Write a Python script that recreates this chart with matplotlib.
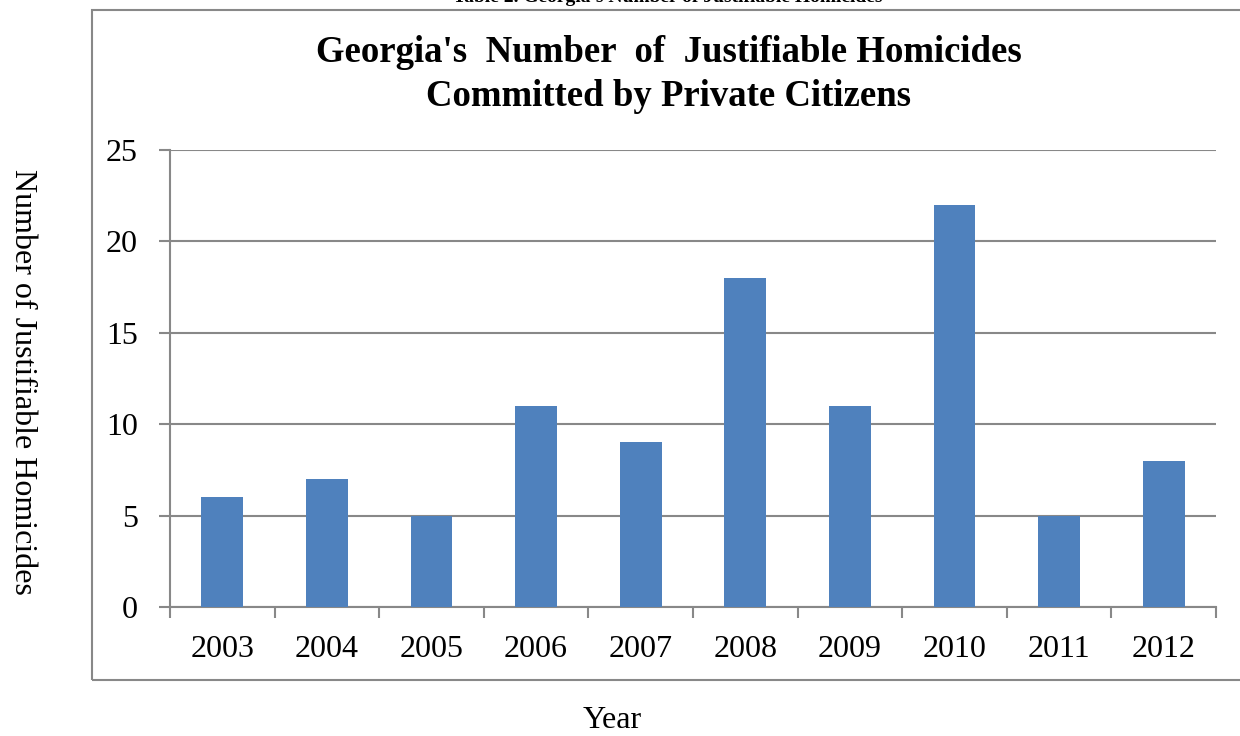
import matplotlib.pyplot as plt
from matplotlib.patches import Rectangle

# Justifiable homicides by private citizens, Georgia
anos = ["2003", "2004", "2005", "2006", "2007", "2008", "2009", "2010", "2011", "2012"]
homicidios = [6, 7, 5, 11, 9, 18, 11, 22, 5, 8]
y_ticks = [0, 5, 10, 15, 20, 25]

plt.rcParams['font.family'] = ['Liberation Serif', 'DejaVu Serif']

W, H = 1240, 736
fig = plt.figure(figsize=(W / 100, H / 100), dpi=100)

# plot area in pixels: x 170..1216, y 150..607
ax = fig.add_axes([170 / W, 1 - 607 / H, (1216 - 170) / W, (607 - 150) / H])
ax.set_zorder(2)

x = range(len(anos))
ax.bar(x, homicidios, width=0.40, color='#4F81BD', zorder=3)

ax.set_xlim(-0.5, len(anos) - 0.5)
ax.set_ylim(0, 25)
ax.set_yticks(y_ticks)
ax.set_yticklabels([str(v) for v in y_ticks], fontsize=23)
ax.set_xticks(list(x))
ax.set_xticklabels(anos, fontsize=23)
ax.tick_params(axis='x', length=0, pad=20)
ax.tick_params(axis='y', length=8, width=1.5, color='#888888', pad=15)

# tick marks between categories
ax.set_xticks([i - 0.5 for i in range(len(anos) + 1)], minor=True)
ax.tick_params(axis='x', which='minor', length=8, width=1.5, color='#888888')

ax.grid(axis='y', color='#888888', linewidth=1.5, zorder=0)
for s in ['top', 'right']:
    ax.spines[s].set_visible(False)
for s in ['left', 'bottom']:
    ax.spines[s].set_color('#888888')
    ax.spines[s].set_linewidth(1.5)

# outer chart border
fig.patches.append(Rectangle((92 / W, 1 - 680 / H), (W + 10 - 92) / W, (680 - 10) / H,
                             transform=fig.transFigure, fill=False,
                             edgecolor='#888888', linewidth=1.5))

fig.text(669 / W, 1 - 52 / H, "Georgia's  Number  of  Justifiable Homicides",
         ha='center', va='center', fontsize=26.5, fontweight='bold')
fig.text(669 / W, 1 - 96 / H, "Committed by Private Citizens",
         ha='center', va='center', fontsize=26.5, fontweight='bold')

fig.text(668 / W, 1 + 2 / H, "Table 2. Georgia's Number of Justifiable Homicides",
         ha='center', va='center', fontsize=14, fontweight='bold')

fig.text(22 / W, 1 - 382 / H, "Number of Justifiable Homicides",
         ha='center', va='center', rotation=-90, fontsize=23)
fig.text(612 / W, 1 - 721 / H, "Year", ha='center', va='center', fontsize=23)

fig.savefig('out.png', dpi=100)
